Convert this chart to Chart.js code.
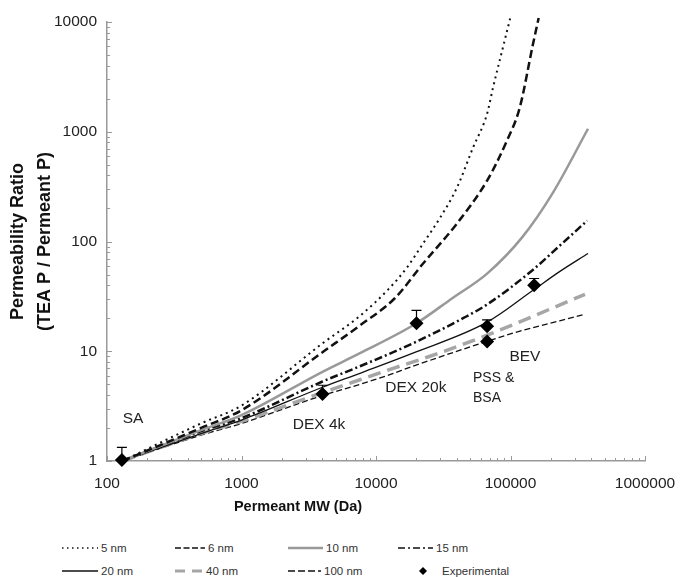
<!DOCTYPE html>
<html lang="en">
<head>
  <meta charset="UTF-8" />
  <title>Permeability Ratio vs Permeant MW</title>
  <script src="https://cdn.jsdelivr.net/npm/chart.js"></script>
  <style>
    body {
      margin: 0;
      background: #fff;
      font-family: "Liberation Sans", Arial, sans-serif;
    }
    .wrap {
      position: relative;
      width: 681px;
      height: 577px;
      overflow: hidden;
    }
    #chart {
      position: absolute;
      left: 0;
      top: 0;
    }
    .item {
      position: absolute;
      display: flex;
      align-items: center;
      height: 14px;
      font-family: "Liberation Sans Narrow", "Arial Narrow", sans-serif;
      font-size: 11.5px;
      color: #333;
      white-space: nowrap;
    }
    .item svg {
      margin-right: 3px;
    }
  </style>
</head>
<body>
  <div class="wrap">
    <canvas id="chart" width="681" height="530"></canvas>
    <div id="legend"></div>
  </div>

  <script>
    // model curves: permeant MW (Da) and permeability ratio, one pair per pore radius
    const mw5 = [130, 500, 1000, 4000, 7600, 12700, 17000, 22400, 30000, 40000, 52600, 67000, 74000, 84000, 100000];
    const ratio5 = [1, 2.2, 3.2, 11.8, 21, 38, 58, 96, 165, 310, 715, 1460, 2500, 4700, 11100];

    const mw6 = [130, 500, 1000, 4000, 7600, 13800, 22400, 40000, 67000, 94000, 117000, 147000, 162000];
    const ratio6 = [1, 2.0, 2.9, 9.8, 17.2, 30.4, 63, 146, 359, 828, 1650, 6300, 10900];

    const mw10 = [130, 500, 1000, 4000, 7600, 20000, 36700, 67000, 122000, 207000, 377000];
    const ratio10 = [1, 1.91, 2.62, 6.5, 9.6, 18, 30.3, 51, 109, 279, 1065];

    const mw15 = [130, 500, 1000, 4000, 7600, 18800, 44400, 67000, 145000, 233000, 372000];
    const ratio15 = [1, 1.87, 2.46, 5.3, 7.3, 11.8, 20, 26.7, 54.5, 92, 155];

    const mw20 = [130, 500, 1000, 4000, 7600, 18800, 67000, 147000, 233000, 377000];
    const ratio20 = [1, 1.78, 2.36, 4.7, 6.3, 9.6, 18.4, 35.9, 53.4, 77.8];

    const mw40 = [130, 500, 1000, 4000, 7600, 12100, 25200, 66800, 358000];
    const ratio40 = [1, 1.78, 2.3, 4.2, 5.5, 6.7, 9.0, 14.0, 33];

    const mw100 = [130, 500, 1000, 4000, 7600, 12100, 18800, 66800, 104000, 358000];
    const ratio100 = [1, 1.72, 2.2, 3.95, 5.0, 6.0, 7.3, 12.3, 14.6, 21.7];

    // experimental points: SA, DEX 4k, DEX 20k, PSS, BSA, BEV
    const expMW = [129, 4000, 20000, 67000, 67000, 150000];
    const expRatio = [1.02, 4.07, 18, 16.9, 12.3, 40];
    const expErrTop = [1.33, 4.9, 23.6, 19.3, null, 46];

    const xTicks = [100, 1000, 10000, 100000, 1000000];
    const yTicks = [1, 10, 100, 1000, 10000];

    const noteText = ["SA", "DEX 4k", "DEX 20k", "PSS &", "BSA", "BEV"];
    const noteMW = [156, 3770, 19800, 52600, 52600, 128000];
    const noteRatio = [2.41, 2.12, 4.61, 5.68, 3.74, 9.0];

    const series = [
      { label: "5 nm", mw: mw5, ratio: ratio5, color: "#111", width: 2, dash: [2, 4], legendDash: "1.5 3.5", legendWidth: 1.5, col: 0, row: 0, len: 36 },
      { label: "6 nm", mw: mw6, ratio: ratio6, color: "#111", width: 2.5, dash: [8, 4], legendDash: "6 2.5", legendWidth: 1.5, col: 1, row: 0, len: 30 },
      { label: "10 nm", mw: mw10, ratio: ratio10, color: "#999", width: 2.5, dash: [], legendDash: "", legendWidth: 2.5, col: 2, row: 0, len: 35 },
      { label: "15 nm", mw: mw15, ratio: ratio15, color: "#111", width: 2.5, dash: [8, 3, 2, 3], legendDash: "7 3 2 3", legendWidth: 1.5, col: 3, row: 0, len: 35 },
      { label: "20 nm", mw: mw20, ratio: ratio20, color: "#111", width: 1.3, dash: [], legendDash: "", legendWidth: 1.5, col: 0, row: 1, len: 36 },
      { label: "40 nm", mw: mw40, ratio: ratio40, color: "#a6a6a6", width: 3.5, dash: [13, 7], legendDash: "10 7", legendWidth: 3, col: 1, row: 1, len: 28 },
      { label: "100 nm", mw: mw100, ratio: ratio100, color: "#111", width: 1.3, dash: [6, 3], legendDash: "7 3", legendWidth: 1.5, col: 2, row: 1, len: 33 }
    ];

    const colLeft = [62, 175, 288, 398];
    const rowY = [548, 571];

    const toPoints = (xs, ys) => xs.map((x, i) => ({ x: x, y: ys[i] }));

    const datasets = series.map(s => ({
      type: "line",
      label: s.label,
      data: toPoints(s.mw, s.ratio),
      borderColor: s.color,
      borderWidth: s.width,
      borderDash: s.dash,
      pointRadius: 0,
      cubicInterpolationMode: "monotone",
      fill: false,
      clip: 8,
      order: 1
    }));

    datasets.push({
      type: "scatter",
      label: "Experimental",
      data: toPoints(expMW, expRatio),
      pointStyle: "rectRot",
      pointRadius: 7,
      backgroundColor: "#000",
      borderColor: "#000",
      borderWidth: 0,
      clip: false,
      order: -1
    });

    const extras = {
      id: "extras",
      afterDatasetsDraw(chart) {
        const { ctx, chartArea: a } = chart;
        const x = chart.scales.x, y = chart.scales.y;
        ctx.save();

        // tick marks pointing into the plot
        ctx.strokeStyle = "#999";
        ctx.lineWidth = 1;
        for (let d = 100; d <= 1000000; d *= 10) {
          for (let m = 1; m < 10; m++) {
            const v = d * m;
            if (v > 1000000) break;
            const px = Math.round(x.getPixelForValue(v)) + 0.5;
            ctx.beginPath();
            ctx.moveTo(px, a.bottom);
            ctx.lineTo(px, a.bottom - (m === 1 ? 5 : 3));
            ctx.stroke();
          }
        }
        for (let d = 1; d <= 10000; d *= 10) {
          for (let m = 1; m < 10; m++) {
            const v = d * m;
            if (v > 10000) break;
            const py = Math.round(y.getPixelForValue(v)) + 0.5;
            ctx.beginPath();
            ctx.moveTo(a.left, py);
            ctx.lineTo(a.left + (m === 1 ? 5 : 3), py);
            ctx.stroke();
          }
        }

        // error bars (upper only, with cap)
        ctx.strokeStyle = "#000";
        ctx.lineWidth = 1.2;
        expMW.forEach((mw, i) => {
          if (expErrTop[i] == null) return;
          const px = x.getPixelForValue(mw);
          const p0 = y.getPixelForValue(expRatio[i]);
          const p1 = y.getPixelForValue(expErrTop[i]);
          ctx.beginPath();
          ctx.moveTo(px, p0);
          ctx.lineTo(px, p1);
          ctx.moveTo(px - 5, p1);
          ctx.lineTo(px + 5, p1);
          ctx.stroke();
        });

        // labels next to the data
        ctx.fillStyle = "#222";
        ctx.textBaseline = "middle";
        noteText.forEach((t, i) => {
          const px = x.getPixelForValue(noteMW[i]);
          const py = y.getPixelForValue(noteRatio[i]);
          if (t === "PSS &" || t === "BSA") {
            ctx.font = '14px "Liberation Sans Narrow", "Arial Narrow", sans-serif';
            ctx.textAlign = "left";
          } else {
            ctx.font = '15.5px "Liberation Sans", Arial, sans-serif';
            ctx.textAlign = "center";
          }
          ctx.fillText(t, px, py);
        });

        // x axis title
        ctx.fillStyle = "#111";
        ctx.font = 'bold 14.5px "Liberation Sans", Arial, sans-serif';
        ctx.textAlign = "center";
        ctx.fillText("Permeant MW (Da)", a.left + 191, 507);

        ctx.restore();
      }
    };

    Chart.defaults.font.family = '"Liberation Sans", Arial, sans-serif';

    new Chart(document.getElementById("chart"), {
      data: { datasets: datasets },
      options: {
        responsive: false,
        animation: false,
        layout: { padding: { top: 22, right: 36, left: 0, bottom: 0 } },
        plugins: {
          legend: { display: false },
          tooltip: { enabled: false }
        },
        scales: {
          x: {
            type: "logarithmic",
            min: 100,
            max: 1000000,
            afterBuildTicks: s => { s.ticks = xTicks.map(v => ({ value: v })); },
            afterFit: s => { s.height = 69; s.paddingLeft = 0; s.paddingRight = 0; },
            grid: { display: false, drawTicks: false },
            border: { display: true, color: "#999", width: 1.5 },
            ticks: {
              autoSkip: false,
              maxRotation: 0,
              padding: 13,
              color: "#222",
              font: { size: 15.5 },
              callback: v => String(v)
            }
          },
          y: {
            type: "logarithmic",
            min: 1,
            max: 10000,
            afterBuildTicks: s => { s.ticks = yTicks.map(v => ({ value: v })); },
            afterFit: s => { s.width = 107; s.paddingTop = 0; s.paddingBottom = 0; },
            grid: { display: false, drawTicks: false },
            border: { display: true, color: "#999", width: 1.5 },
            ticks: {
              autoSkip: false,
              padding: 10,
              color: "#222",
              font: { size: 15.5 },
              callback: v => String(v)
            },
            title: {
              display: true,
              text: ["Permeability Ratio", "(TEA P / Permeant P)"],
              color: "#111",
              font: { size: 18, weight: "bold", lineHeight: 1.5 },
              padding: { top: 4.5, bottom: 0 }
            }
          }
        }
      },
      plugins: [extras]
    });

    // legend below the plot, in a 4 x 2 grid
    const legend = document.getElementById("legend");
    series.forEach(s => {
      const el = document.createElement("div");
      el.className = "item";
      el.style.left = colLeft[s.col] + "px";
      el.style.top = (rowY[s.row] - 7) + "px";
      el.innerHTML =
        '<svg width="' + s.len + '" height="8"><line x1="0" y1="4" x2="' + s.len + '" y2="4" stroke="' + s.color +
        '" stroke-width="' + s.legendWidth + '"' + (s.legendDash ? ' stroke-dasharray="' + s.legendDash + '"' : "") +
        '/></svg><span>' + s.label + "</span>";
      legend.appendChild(el);
    });
    const exp = document.createElement("div");
    exp.className = "item";
    exp.style.left = "417px";
    exp.style.top = (rowY[1] - 7) + "px";
    exp.innerHTML = '<svg width="12" height="10" style="margin-right:13px"><polygon points="6,1 10,5 6,9 2,5" fill="#000"/></svg><span>Experimental</span>';
    legend.appendChild(exp);
  </script>
</body>
</html>
